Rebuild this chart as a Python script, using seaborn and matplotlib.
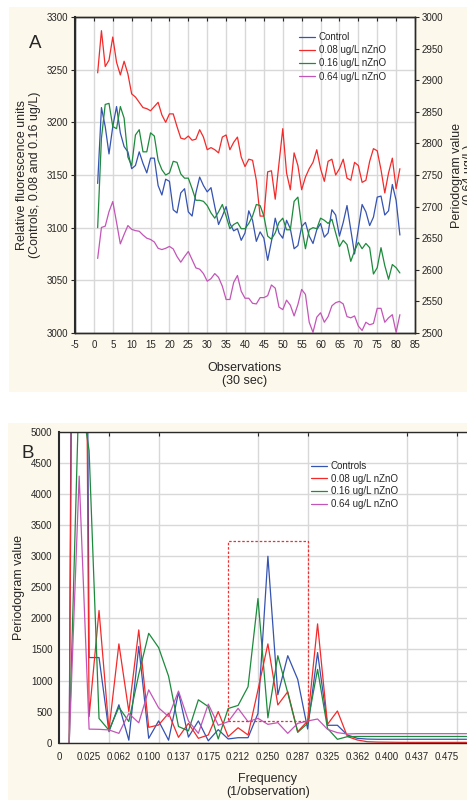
import numpy as np
import pandas as pd
import matplotlib
matplotlib.use("Agg")
import matplotlib.pyplot as plt
import seaborn as sns
from matplotlib.patches import Rectangle

# ---------------- data: panel A (81 observations) ----------------
control = [3142, 3214, 3196, 3170, 3196, 3215, 3190, 3177, 3172, 3156,
           3159, 3172, 3161, 3152, 3166, 3166, 3140, 3131, 3146, 3144,
           3117, 3114, 3133, 3137, 3115, 3111, 3133, 3148, 3140, 3134,
           3138, 3120, 3103, 3111, 3120, 3104, 3097, 3099, 3088, 3095,
           3116, 3107, 3087, 3096, 3090, 3069, 3087, 3109, 3095, 3090,
           3107, 3099, 3080, 3083, 3101, 3105, 3092, 3085, 3098, 3104,
           3091, 3095, 3117, 3112, 3092, 3105, 3121, 3098, 3075, 3099,
           3122, 3115, 3102, 3110, 3129, 3130, 3112, 3116, 3141, 3126,
           3093]
zno_008 = [3247, 3287, 3253, 3259, 3281, 3257, 3245, 3258, 3246, 3227,
           3224, 3219, 3214, 3213, 3211, 3215, 3219, 3207, 3200, 3208,
           3208, 3196, 3185, 3184, 3187, 3183, 3184, 3193, 3186, 3174,
           3176, 3174, 3171, 3186, 3188, 3174, 3181, 3186, 3167, 3158,
           3165, 3164, 3145, 3111, 3111, 3153, 3154, 3127, 3161, 3194,
           3152, 3136, 3171, 3159, 3136, 3148, 3156, 3162, 3174, 3156,
           3144, 3163, 3165, 3150, 3156, 3165, 3147, 3145, 3162, 3159,
           3143, 3145, 3163, 3175, 3173, 3155, 3133, 3152, 3166, 3137,
           3156]
zno_016 = [3100, 3185, 3217, 3218, 3196, 3194, 3215, 3204, 3167, 3159,
           3188, 3193, 3172, 3172, 3190, 3187, 3164, 3155, 3150, 3152,
           3163, 3162, 3151, 3147, 3147, 3137, 3126, 3126, 3125, 3121,
           3114, 3109, 3115, 3122, 3111, 3099, 3103, 3105, 3099, 3099,
           3104, 3111, 3122, 3121, 3111, 3092, 3089, 3095, 3105, 3109,
           3098, 3098, 3125, 3129, 3101, 3080, 3098, 3100, 3099, 3109,
           3107, 3104, 3108, 3095, 3082, 3088, 3084, 3068, 3078, 3086,
           3080, 3085, 3081, 3056, 3062, 3081, 3064, 3051, 3065, 3062,
           3057]
zno_064 = [2618, 2667, 2669, 2692, 2708, 2675, 2641, 2656, 2670, 2664,
           2662, 2661, 2655, 2650, 2648, 2644, 2634, 2632, 2634, 2637,
           2633, 2621, 2612, 2621, 2629, 2616, 2603, 2601, 2594, 2582,
           2586, 2594, 2588, 2574, 2553, 2553, 2580, 2591, 2566, 2555,
           2555, 2547, 2546, 2556, 2556, 2559, 2576, 2571, 2541, 2537,
           2552, 2544, 2527, 2545, 2569, 2561, 2517, 2501, 2525, 2532,
           2517, 2526, 2543, 2548, 2550, 2546, 2526, 2524, 2527, 2511,
           2504, 2517, 2513, 2515, 2539, 2539, 2517, 2524, 2529, 2501,
           2529]
labels_a = ["Control", "0.08 ug/L nZnO", "0.16 ug/L nZnO", "0.64 ug/L nZnO"]

# ---------------- data: panel B (periodogram, 41 frequencies) ----------------
per_ctrl = [0, 30000, 1370, 1370, 177, 610, 40, 1550, 70, 350,
            40, 810, 90, 350, 30, 210, 60, 80, 80, 470,
            3000, 770, 1400, 1020, 220, 1450, 280, 280, 124, 70,
            58, 55, 55, 55, 55, 55, 55, 55, 55, 55, 55]
per_008 = [0, 24000, 420, 2127, 204, 1590, 500, 1815, 247, 285,
           473, 86, 311, 70, 124, 500, 97, 240, 124, 850,
           1590, 607, 820, 177, 350, 1912, 295, 510, 100, 43,
           16, 10, 8, 6, 5, 5, 5, 5, 5, 5, 5]
per_016 = [0, 5770, 4700, 390, 200, 570, 340, 1100, 1760, 1530,
           1070, 260, 190, 690, 580, 60, 550, 600, 900, 2320,
           400, 1400, 800, 166, 311, 1180, 230, 54, 97, 100,
           100, 100, 100, 100, 100, 100, 100, 100, 100, 100, 100]
per_064 = [0, 4290, 218, 215, 205, 150, 470, 320, 850, 560,
           420, 830, 350, 150, 620, 280, 338, 553, 338, 392,
           295, 322, 150, 311, 349, 381, 215, 161, 140, 145,
           145, 145, 145, 145, 145, 145, 145, 145, 145, 145, 145]
labels_b = ["Controls", "0.08 ug/L nZnO", "0.16 ug/L nZnO", "0.64 ug/L nZnO"]
freq_ticks = [-0.0125, 0.025, 0.0625, 0.1, 0.1375, 0.175, 0.2125, 0.25,
              0.2875, 0.325, 0.3625, 0.4, 0.4375, 0.475]
freq_ticklabels = ["0", "0.025", "0.062", "0.100", "0.137", "0.175", "0.212",
                   "0.250", "0.287", "0.325", "0.362", "0.400", "0.437", "0.475"]
freq_grid = [0.05, 0.1125, 0.175, 0.2375, 0.3, 0.3625, 0.425, 0.4875]
box_f = [0.2, 0.3]
box_p = [350, 3250]

colors = ["#3553b0", "#f42a2a", "#1d8a3c", "#c455b8"]

obs = np.arange(1, len(control) + 1)
freq = np.arange(len(per_ctrl)) / 80.0

sns.set_style("white")
plt.rcParams["font.family"] = ["Liberation Sans", "DejaVu Sans"]
plt.rcParams["axes.unicode_minus"] = False

W, H = 467, 800
fig = plt.figure(figsize=(W / 100, H / 100), dpi=100)
fig.patch.set_facecolor("white")
cream = "#fdf8ec"
fig.add_artist(Rectangle((9 / W, 1 - 392 / H), 1, (392 - 7) / H,
                         transform=fig.transFigure, facecolor=cream,
                         edgecolor="none", zorder=-5))
fig.add_artist(Rectangle((8 / W, 0), 1, (800 - 423) / H,
                         transform=fig.transFigure, facecolor=cream,
                         edgecolor="none", zorder=-5))

grid_kw = dict(color="#d8d8d8", lw=1.0)
lw = 0.9

# ================= Panel A =================
ax1 = fig.add_axes([75 / W, 1 - 333 / H, 340 / W, 316 / H])
ax1.set_facecolor("white")
dfa = pd.DataFrame({"obs": obs, "c": control, "a": zno_008, "b": zno_016, "m": zno_064})
for col, c in zip(["c", "a", "b"], colors[:3]):
    sns.lineplot(data=dfa, x="obs", y=col, ax=ax1, color=c, lw=lw, errorbar=None)
ax2 = ax1.twinx()
sns.lineplot(data=dfa, x="obs", y="m", ax=ax2, color=colors[3], lw=lw, errorbar=None)

ax1.set_xlim(-5, 85)
ax1.set_ylim(3000, 3300)
ax2.set_ylim(2500, 3000)
ax1.set_xticks(np.arange(-5, 86, 5))
ax1.set_yticks(np.arange(3000, 3301, 50))
ax2.set_yticks(np.arange(2500, 3001, 50))
ax1.grid(True, **grid_kw)
ax1.set_axisbelow(True)
ax2.grid(False)
ax1.tick_params(axis="x", labelsize=7, length=3, width=0.8, direction="in",
                top=True, pad=5)
ax1.tick_params(axis="y", labelsize=7, length=3, width=0.8, direction="out", pad=2)
ax2.tick_params(axis="y", labelsize=7, length=3, width=0.8, direction="out", pad=2)
for a in (ax1, ax2):
    for s in a.spines.values():
        s.set_color("#2a2a2a")
        s.set_linewidth(1.0)
ax1.spines["left"].set_linewidth(1.5)
ax1.set_xlabel("Observations\n(30 sec)", fontsize=9, labelpad=9, linespacing=1.1)
ax1.set_ylabel("Relative fluorescence units\n(Controls, 0.08 and 0.16 ug/L)",
               fontsize=9, labelpad=4, linespacing=1.1)
ax2.set_ylabel("Periodogram value\n(0.64 ug/L)", fontsize=9, labelpad=5,
               linespacing=1.1, rotation=90)
handles_a = ax1.lines[:3] + ax2.lines[:1]
fig.legend(handles_a, labels_a, loc="upper left",
           bbox_to_anchor=(299 / W, 1 - 32 / H), bbox_transform=fig.transFigure,
           frameon=False, fontsize=7, handlelength=1.6, handletextpad=0.45,
           labelspacing=0.33, borderpad=0, borderaxespad=0)
fig.text(35 / W, 1 - 43 / H, "A", fontsize=13.5, ha="center", va="center")

# ================= Panel B =================
ax3 = fig.add_axes([59.3 / W, 1 - 743.3 / H, (476.5 - 59.3) / W, (743.3 - 432) / H])
ax3.set_facecolor("white")
dfb = pd.DataFrame({"f": freq, "c": per_ctrl, "a": per_008, "b": per_016, "m": per_064})
for col, c in zip(["c", "a", "b", "m"], colors):
    sns.lineplot(data=dfb, x="f", y=col, ax=ax3, color=c, lw=lw, errorbar=None)
ax3.add_patch(Rectangle((box_f[0], box_p[0]), box_f[1] - box_f[0], box_p[1] - box_p[0],
                        fill=False, edgecolor="#f03030", lw=0.9, ls=(0, (2, 1.5)),
                        zorder=3))
ax3.set_xlim(-0.0125, 0.5125)
ax3.set_ylim(-10, 5000)
ax3.set_xticks(freq_ticks)
ax3.set_xticklabels(freq_ticklabels)
ax3.set_xticks(freq_grid, minor=True)
ax3.set_yticks(np.arange(0, 5001, 500))
ax3.grid(True, which="minor", axis="x", **grid_kw)
ax3.grid(True, which="major", axis="y", **grid_kw)
ax3.grid(False, which="major", axis="x")
ax3.set_axisbelow(True)
ax3.tick_params(axis="x", which="major", labelsize=7, length=0, pad=6)
ax3.tick_params(axis="x", which="minor", length=3, width=0.8, direction="in",
                top=True, bottom=False)
ax3.tick_params(axis="y", labelsize=7, length=3, width=0.8, direction="out", pad=2)
for s in ax3.spines.values():
    s.set_color("#2a2a2a")
    s.set_linewidth(1.0)
ax3.spines["left"].set_linewidth(1.5)
ax3.set_xlabel("Frequency\n(1/observation)", fontsize=9, labelpad=8, linespacing=1.1)
ax3.set_ylabel("Periodogram value", fontsize=9, labelpad=4)
fig.legend(ax3.lines[:4], labels_b, loc="upper left",
           bbox_to_anchor=(311 / W, 1 - 461 / H), bbox_transform=fig.transFigure,
           frameon=False, fontsize=7, handlelength=1.6, handletextpad=0.45,
           labelspacing=0.28, borderpad=0, borderaxespad=0)
fig.text(28 / W, 1 - 453 / H, "B", fontsize=13.5, ha="center", va="center")

fig.savefig("out.png", dpi=100, facecolor=fig.get_facecolor())
